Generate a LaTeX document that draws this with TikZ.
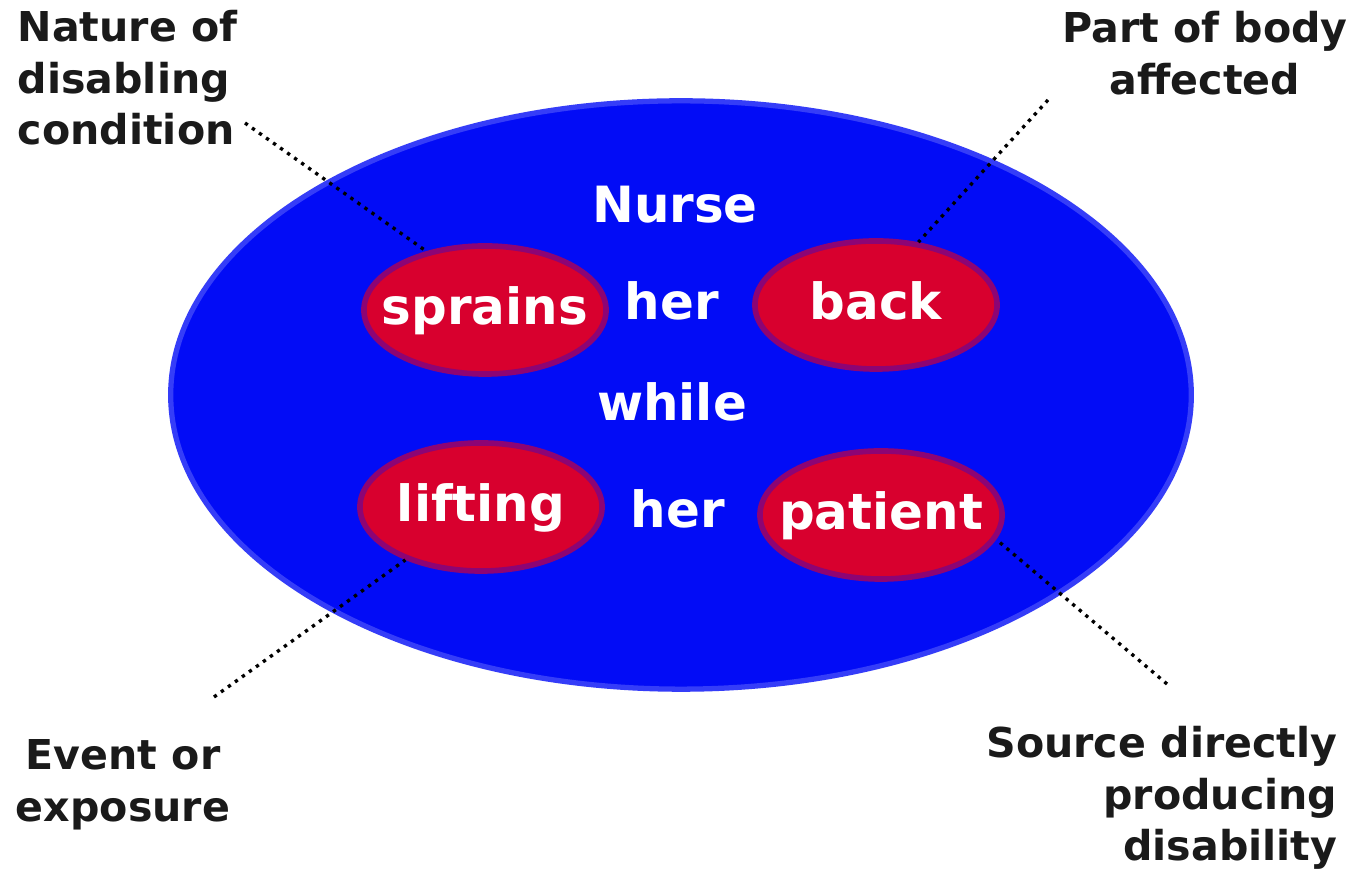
\documentclass[tikz,border=0pt]{standalone}
\usepackage{fontspec}
\setmainfont{DejaVu Sans}
\usetikzlibrary{shapes.geometric, positioning}
\definecolor{plateblue}{RGB}{2,12,246}
\definecolor{spotred}{RGB}{216,0,46}
\definecolor{inkgray}{RGB}{26,26,26}

\begin{document}
\begin{tikzpicture}[x=0.01cm, y=-0.01cm,
    spot/.style={ellipse, fill=spotred, draw=spotred!65!plateblue, line width=1.6pt, inner sep=0pt, minimum width=2.42cm, minimum height=1.28cm},
    word/.style={text=white, font=\fontsize{14.2}{17}\selectfont\bfseries, text height=0.75em, text depth=0.2em, inner sep=0pt},
    caption/.style={text=inkgray, font=\fontsize{11.7}{14.6}\selectfont\bfseries, inner sep=0pt},
    leader/.style={draw=black, line width=0.95pt, dash pattern=on 0.95pt off 1.5pt}]
    \useasboundingbox[fill=white] (0,0) rectangle (1357,871);

    \node[ellipse, fill=plateblue, draw=plateblue!80!white, line width=1.5pt, inner sep=0pt, minimum width=10.2cm, minimum height=5.88cm] (plate) at (681,395) {};

    \node[spot] (sprains) at (485,310) {};
    \node[spot] (back) at (876,305) {};
    \node[spot] (lifting) at (481,507) {};
    \node[spot] (patient) at (881,515) {};
    \node[word] at ([yshift=-1.5pt] sprains) {sprains};
    \node[word] at ([yshift=-1.5pt] back) {back};
    \node[word] at ([yshift=-1.5pt] lifting) {lifting};
    \node[word] at ([yshift=-1.5pt] patient) {patient};

    \node[word] (nurse) at (675,213) {Nurse};
    \node[word] (her) at (672,310) {her};
    \node[word] (while) at (672,411) {while};
    \node[word] (herb) at (678,518) {her};

    \node[caption, align=left, anchor=north west] (nature) at (17,10) {Nature of\\disabling\\condition};
    \node[caption, align=center, anchor=north] (part) at (1205,11) {Part of body\\affected};
    \node[caption, align=center, anchor=north] (event) at (123,739) {Event or\\exposure};
    \node[caption, align=right, anchor=north east] (source) at (1338,726) {Source directly\\producing\\disability};

    % leader lines
    \coordinate (natureTip) at (245,123);
    \coordinate (partTip) at (1048,100);
    \coordinate (eventTip) at (214,697);
    \coordinate (sourceTip) at (1167,684);
    \draw[leader] (natureTip) -- (sprains.135);
    \draw[leader] (partTip) -- (back.56);
    \draw[leader] (eventTip) -- (lifting.215);
    \draw[leader] (sourceTip) -- (patient.-12);
\end{tikzpicture}
\end{document}
